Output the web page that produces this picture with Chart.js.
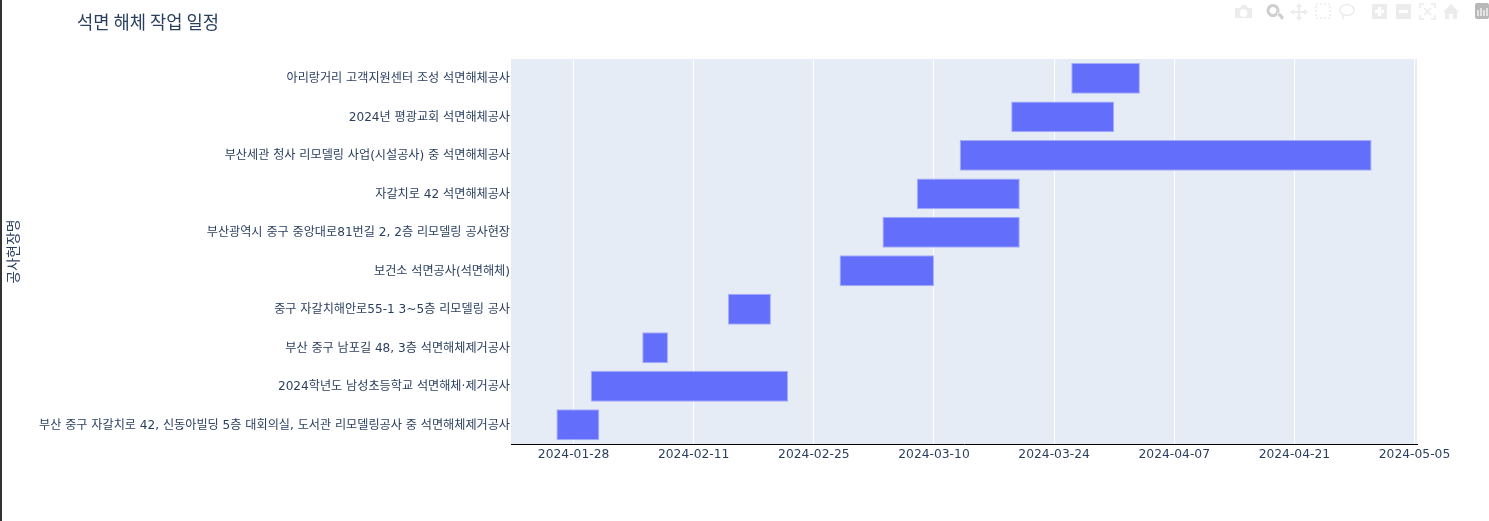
<!DOCTYPE html>
<html lang="ko">
<head>
<meta charset="utf-8">
<title>석면 해체 작업 일정</title>
<script src="https://cdn.jsdelivr.net/npm/chart.js@4/dist/chart.umd.min.js"></script>
<style>
html,body{margin:0;padding:0;background:#fff;overflow:hidden}
#wrap{position:relative;width:1489px;height:521px}
#strip{position:absolute;left:0;top:0;width:2px;height:521px;background:#333}
canvas{position:absolute;left:0;top:0}
#bar{position:absolute;left:0;top:0;width:1489px;height:30px;pointer-events:none}
</style>
</head>
<body>
<div id="wrap">
<canvas id="c" width="1489" height="521"></canvas>
<div id="strip"></div>
<svg id="bar" width="1489" height="30" viewBox="0 0 1489 30">
  <g fill="#ececec">
    <path d="M1235 8h5l2-3h4l2 3h4v10h-17z M1243.5 9a4 4 0 1 0 .01 0z" fill-rule="evenodd"/>
    <path d="M1273 4a6.5 6.5 0 1 0 .01 0z M1273 7a3.5 3.5 0 1 1-.01 0z M1277 14l2-2 5 5-2 3z" fill-rule="evenodd" fill="#cfcfcf"/>
    <path d="M1299 3l3 4h-2v4h4v-2l4 3-4 3v-2h-4v4h2l-3 4-3-4h2v-4h-4v2l-4-3 4-3v2h4v-4h-2z"/>
    <path d="M1372 4h15v15h-15z M1378 7v3h-3v3h3v3h3v-3h3v-3h-3v-3z" fill-rule="evenodd"/>
    <path d="M1396 4h15v15h-15z M1399 10v3h9v-3z" fill-rule="evenodd"/>
    <path d="M1451 4l8 8h-2v7h-4v-5h-4v5h-4v-7h-2z"/>
  </g>
  <g fill="none" stroke="#ececec" stroke-width="1.5">
    <rect x="1316" y="4" width="14" height="14" stroke-dasharray="2 2"/>
    <ellipse cx="1347" cy="10" rx="7" ry="5.5"/>
    <path d="M1343 15q-1 3 1 4"/>
    <path d="M1420 8V4h4M1431 4h4v4M1435 15v4h-4M1424 19h-4v-4M1424 8l7 7M1431 8l-7 7"/>
  </g>
  <rect x="1475" y="3" width="14" height="16" rx="2" fill="#b8b8b8"/>
  <path d="M1478 10v6M1481 8v8M1484 10v6M1487 8v8" stroke="#fff" stroke-width="1.2"/>
</svg>
</div>
<script>
const chartTitle = '석면 해체 작업 일정';
const axisTitle = '공사현장명';
const categories = [
  '아리랑거리 고객지원센터 조성 석면해체공사',
  '2024년 평광교회 석면해체공사',
  '부산세관 청사 리모델링 사업(시설공사) 중 석면해체공사',
  '자갈치로 42 석면해체공사',
  '부산광역시 중구 중앙대로81번길 2, 2층 리모델링 공사현장',
  '보건소 석면공사(석면해체)',
  '중구 자갈치해안로55-1 3~5층 리모델링 공사',
  '부산 중구 남포길 48, 3층 석면해체제거공사',
  '2024학년도 남성초등학교 석면해체·제거공사',
  '부산 중구 자갈치로 42, 신동아빌딩 5층 대회의실, 도서관 리모델링공사 중 석면해체제거공사'
];
const startDates = ['2024-03-26','2024-03-19','2024-03-13','2024-03-08','2024-03-04','2024-02-28','2024-02-15','2024-02-05','2024-01-30','2024-01-26'];
const endDates   = ['2024-04-03','2024-03-31','2024-04-30','2024-03-20','2024-03-20','2024-03-10','2024-02-20','2024-02-08','2024-02-22','2024-01-31'];
const tickDates  = ['2024-01-28','2024-02-11','2024-02-25','2024-03-10','2024-03-24','2024-04-07','2024-04-21','2024-05-05'];
const axisStart = '2024-01-20T17:00:00';
const axisEnd   = '2024-05-05T07:00:00';

const ms = s => Date.parse(s.length === 10 ? s + 'T00:00:00Z' : s + 'Z');
const INK = '#2a3f5f';
const LATIN_KR = '"DejaVu Sans","Noto Sans CJK KR",sans-serif';

const plotBg = {
  id: 'plotBg',
  beforeDraw(chart) {
    const a = chart.chartArea, c = chart.ctx;
    c.save(); c.fillStyle = '#E5ECF6';
    c.fillRect(a.left, a.top, a.right - a.left, a.bottom - a.top);
    c.restore();
    if (chart.titleBlock) { chart.titleBlock.left = 77; }
  }
};

new Chart(document.getElementById('c'), {
  type: 'bar',
  plugins: [plotBg],
  data: {
    labels: categories,
    datasets: [{
      data: startDates.map((s, i) => [ms(s), ms(endDates[i])]),
      backgroundColor: '#636efa',
      borderColor: '#a6acfa',
      borderWidth: 1,
      borderSkipped: false,
      categoryPercentage: 1,
      barPercentage: 0.8
    }]
  },
  options: {
    indexAxis: 'y',
    responsive: false,
    animation: false,
    events: [],
    layout: { padding: { left: 0, right: 72, top: 0, bottom: 0 } },
    plugins: {
      legend: { display: false },
      tooltip: { enabled: false },
      title: {
        display: true, text: chartTitle, align: 'start', color: INK,
        font: { family: '"Noto Sans CJK KR",sans-serif', size: 17.7, weight: 'normal', lineHeight: 1.2 },
        padding: { top: 11.4, bottom: 26.4 }
      }
    },
    scales: {
      x: {
        type: 'linear',
        min: ms(axisStart), max: ms(axisEnd),
        afterBuildTicks(s) { s.ticks = tickDates.map(d => ({ value: ms(d) })); },
        afterFit(s) { s.height = 77; },
        grid: { color: '#ffffff', lineWidth: 1, drawTicks: false },
        border: { display: true, color: '#000000', width: 1 },
        ticks: {
          color: INK, padding: 3, maxRotation: 0, autoSkip: false,
          font: { family: LATIN_KR, size: 12.3 },
          callback: v => new Date(v).toISOString().slice(0, 10)
        }
      },
      y: {
        type: 'category',
        afterFit(s) { s.width = 511; },
        grid: { display: false, drawTicks: false },
        border: { display: false },
        title: {
          display: true, text: axisTitle, color: INK,
          font: { family: '"Noto Sans CJK KR",sans-serif', size: 14, weight: 'normal' },
          padding: { top: 4, bottom: 0 }
        },
        ticks: {
          color: INK, padding: 1, labelOffset: 1, autoSkip: false,
          font: { family: LATIN_KR, size: 12.13 }
        }
      }
    }
  }
});
</script>
</body>
</html>
